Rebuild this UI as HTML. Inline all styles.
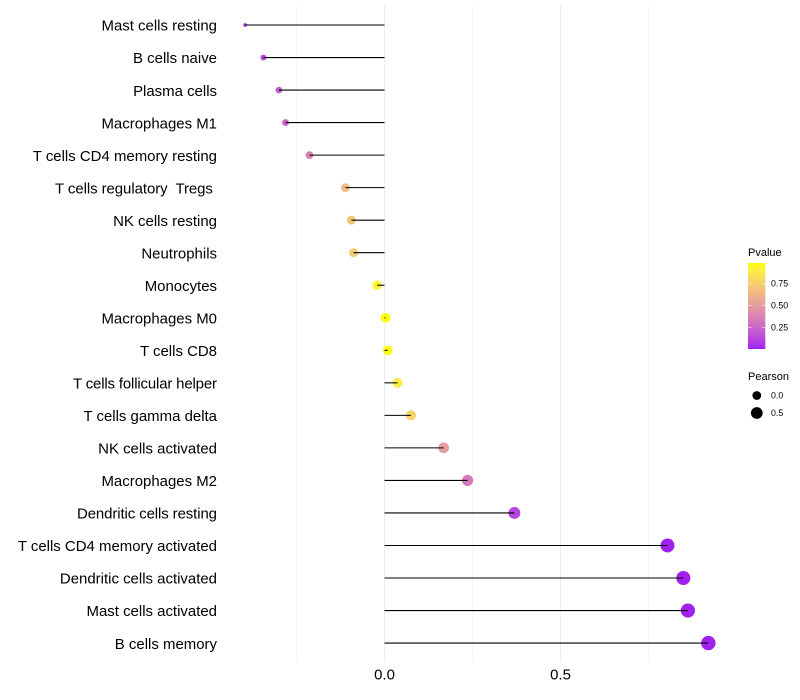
<!DOCTYPE html>
<html lang="en">
<head>
<meta charset="utf-8">
<title>Immune cell correlation lollipop chart</title>
<style>
html,body{margin:0;padding:0;background:#fff;}
svg{display:block;font-family:"Liberation Sans",sans-serif;}
</style>
</head>
<body>
<svg id="chart" width="800" height="700" viewBox="0 0 800 700" xmlns="http://www.w3.org/2000/svg">
<defs><linearGradient id="pvalue-gradient" x1="0" y1="1" x2="0" y2="0"></linearGradient></defs>
<g id="grid"></g>
<g id="points"></g>
<g id="segments"></g>
<g id="y-axis"></g>
<g id="x-axis"></g>
<g id="legend-color"></g>
<g id="legend-size"></g>
</svg>
<script>
const categories = ["Mast cells resting","B cells naive","Plasma cells","Macrophages M1","T cells CD4 memory resting","T cells regulatory  Tregs ","NK cells resting","Neutrophils","Monocytes","Macrophages M0","T cells CD8","T cells follicular helper","T cells gamma delta","NK cells activated","Macrophages M2","Dendritic cells resting","T cells CD4 memory activated","Dendritic cells activated","Mast cells activated","B cells memory"];
const pearson = [-0.396,-0.344,-0.300,-0.281,-0.213,-0.111,-0.094,-0.088,-0.021,0.003,0.009,0.037,0.075,0.168,0.236,0.369,0.804,0.849,0.862,0.920];
const pvalue = [0.07,0.13,0.20,0.25,0.37,0.65,0.70,0.72,0.93,0.98,0.97,0.88,0.76,0.50,0.33,0.12,0.003,0.003,0.003,0.003];
const xMajorTicks = [0, 0.5];
const xMinorTicks = [-0.25, 0.25, 0.75];
const pvalueTicks = [0.25, 0.5, 0.75];
const pearsonLegendValues = [0.0, 0.5];

const NS = "http://www.w3.org/2000/svg";
function make(parent, tag, attrs) {
  const el = document.createElementNS(NS, tag);
  for (const k in attrs) el.setAttribute(k, attrs[k]);
  parent.appendChild(el);
  return el;
}
const slug = s => s.trim().toLowerCase().replace(/\s+/g, "-");
const xScale = v => 384.5 + v * 352;
const yScale = i => 25 + i * 32.53;
const panelTop = 5.5, panelBottom = 662.5;
const minP = Math.min(...pvalue), maxP = Math.max(...pvalue);
const minR = Math.min(...pearson), maxR = Math.max(...pearson);
const radius = v => 1.9 + 5.3 * Math.sqrt((v - minR) / (maxR - minR));
const hintedLabelWidth = {"T cells follicular helper": 144, "T cells regulatory  Tregs ": 162, "Dendritic cells resting": 140};

function rgb2lab(c) {
  const f = u => { u /= 255; return u > 0.04045 ? Math.pow((u + 0.055) / 1.055, 2.4) : u / 12.92; };
  const r = f(c[0]), g = f(c[1]), b = f(c[2]);
  const X = (0.4124564*r + 0.3575761*g + 0.1804375*b) / 0.95047;
  const Y = 0.2126729*r + 0.7151522*g + 0.0721750*b;
  const Z = (0.0193339*r + 0.1191920*g + 0.9503041*b) / 1.08883;
  const h = t => t > 0.008856 ? Math.cbrt(t) : 7.787*t + 16/116;
  return [116*h(Y) - 16, 500*(h(X) - h(Y)), 200*(h(Y) - h(Z))];
}
function lab2css(l) {
  const fy = (l[0] + 16) / 116, fx = l[1] / 500 + fy, fz = fy - l[2] / 200;
  const h = t => t*t*t > 0.008856 ? t*t*t : (t - 16/116) / 7.787;
  const X = h(fx) * 0.95047, Y = h(fy), Z = h(fz) * 1.08883;
  const lin = [3.2404542*X - 1.5371385*Y - 0.4985314*Z, -0.9692660*X + 1.8760108*Y + 0.0415560*Z, 0.0556434*X - 0.2040259*Y + 1.0572252*Z];
  const g = u => { u = Math.max(0, Math.min(1, u)); return Math.round(255 * (u > 0.0031308 ? 1.055*Math.pow(u, 1/2.4) - 0.055 : 12.92*u)); };
  return "rgb(" + lin.map(g).join(",") + ")";
}
const lowLab = rgb2lab([160, 32, 240]), highLab = rgb2lab([255, 255, 0]);
const rampColor = t => lab2css(lowLab.map((v, i) => v + (highLab[i] - v) * t));
const colorScale = p => rampColor((p - minP) / (maxP - minP));

const grid = document.getElementById("grid");
xMinorTicks.forEach(t => {
  const el = make(grid, "line", {x1: xScale(t), x2: xScale(t), y1: panelTop, y2: panelBottom, stroke: "#f5f5f5", "stroke-width": 1});
  
  
});
xMajorTicks.forEach(t => {
  const el = make(grid, "line", {x1: xScale(t), x2: xScale(t), y1: panelTop, y2: panelBottom, stroke: "#ededed", "stroke-width": 1});
  
  
});

const pointsG = document.getElementById("points");
const segmentsG = document.getElementById("segments");
const yAxis = document.getElementById("y-axis");
categories.forEach((name, i) => {
  const c = make(pointsG, "circle", {cx: xScale(pearson[i]), cy: yScale(i), r: radius(pearson[i]), fill: colorScale(pvalue[i])});
  
  
  const s = make(segmentsG, "line", {x1: xScale(0), x2: xScale(pearson[i]), y1: yScale(i), y2: yScale(i), stroke: "#000", "stroke-width": 1.07});
  
  
  const t = make(yAxis, "text", {x: 217, y: yScale(i) + 5.7, "text-anchor": "end", "font-size": 14.96, fill: "#000"});
  t.setAttribute('xml:space', 'preserve');
  t.style.whiteSpace = "pre";
  if (hintedLabelWidth[name]) t.setAttribute('textLength', hintedLabelWidth[name]);
  t.textContent = name;
  
  
});

const xAxis = document.getElementById("x-axis");
xMajorTicks.forEach(t => {
  const el = make(xAxis, "text", {x: xScale(t), y: 679.5, "text-anchor": "middle", "font-size": 14.96, fill: "#000"});
  el.textContent = t.toFixed(1);
  
  
});

const grad = document.getElementById("pvalue-gradient");
for (let k = 0; k <= 20; k++) {
  make(grad, "stop", {offset: k / 20, "stop-color": rampColor(k / 20)});
}
const legendColor = document.getElementById("legend-color");
const barLeft = 748, barRight = 765.3, barTop = 263, barBottom = 349;
const legendY = p => barBottom - (p - minP) / (maxP - minP) * (barBottom - barTop);
const colorTitle = make(legendColor, "text", {x: 748, y: 256, "font-size": 11, fill: "#000"});
colorTitle.textContent = "Pvalue";


const bar = make(legendColor, "rect", {x: barLeft, y: barTop, width: barRight - barLeft, height: barBottom - barTop, fill: "url(#pvalue-gradient)"});


pvalueTicks.forEach(t => {
  const y = legendY(t);
  make(legendColor, "line", {x1: barLeft, x2: barLeft + 3.4, y1: y, y2: y, stroke: "#fff", "stroke-width": 0.5});
  make(legendColor, "line", {x1: barRight - 3.4, x2: barRight, y1: y, y2: y, stroke: "#fff", "stroke-width": 0.5});
  const el = make(legendColor, "text", {x: 771, y: y + 3.1, "font-size": 8.8, fill: "#000"});
  el.textContent = t.toFixed(2);
  
  
});

const legendSize = document.getElementById("legend-size");
const sizeTitle = make(legendSize, "text", {x: 748, y: 380, "font-size": 11, fill: "#000"});
sizeTitle.textContent = "Pearson";


pearsonLegendValues.forEach((v, i) => {
  const y = 395.5 + i * 17.5;
  const c = make(legendSize, "circle", {cx: 756.8, cy: y, r: radius(v) - 0.4, fill: "#000"});
  
  
  const el = make(legendSize, "text", {x: 771, y: y + 3.1, "font-size": 8.8, fill: "#000"});
  el.textContent = v.toFixed(1);
  
  
});
</script>
</body>
</html>
